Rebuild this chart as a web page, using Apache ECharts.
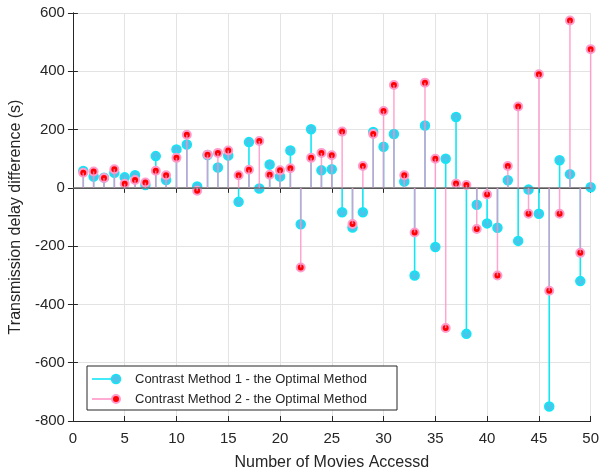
<!DOCTYPE html>
<html>
<head>
<meta charset="utf-8">
<script src="https://cdn.jsdelivr.net/npm/echarts@6/dist/echarts.min.js"></script>
<style>
  html, body { margin: 0; padding: 0; background: #fff; }
  #main { width: 602px; height: 476px; }
</style>
</head>
<body>
<div id="main"></div>
<script>
// 电影编号 1..50
var movies = [1, 2, 3, 4, 5, 6, 7, 8, 9, 10, 11, 12, 13, 14, 15, 16, 17, 18, 19, 20,
  21, 22, 23, 24, 25, 26, 27, 28, 29, 30, 31, 32, 33, 34, 35, 36, 37, 38, 39, 40,
  41, 42, 43, 44, 45, 46, 47, 48, 49, 50];
// 对比方法1 - 最优方法
var method1 = [58, 39, 35, 52, 36, 43, 10, 109, 27, 132, 149, 5, 113, 70, 111, -48, 157, -2, 80, 39,
  128, -125, 201, 60, 64, -84, -136, -84, 192, 141, 185, 22, -301, 214, -203, 100, 243, -501, -58, -122,
  -137, 26, -182, -6, -89, -750, 95, 47, -320, 2];
// 对比方法2 - 最优方法
var method2 = [52, 56, 34, 64, 14, 27, 18, 59, 43, 103, 182, -10, 114, 120, 128, 43, 62, 161, 45, 60,
  67, -273, 103, 120, 112, 193, -124, 75, 185, 264, 353, 43, -153, 361, 100, -481, 15, 10, -141, -23,
  -301, 75, 279, -89, 390, -353, -89, 574, -223, 476];
var xTicks = [0, 5, 10, 15, 20, 25, 30, 35, 40, 45, 50];
var yTicks = [-800, -600, -400, -200, 0, 200, 400, 600];
var names = ['Contrast Method 1 - the Optimal Method', 'Contrast Method 2 - the Optimal Method'];

var pairs1 = movies.map(function (m, i) { return [m, method1[i]]; });
var pairs2 = movies.map(function (m, i) { return [m, method2[i]]; });

function stem(color, opacity, width) {
  return function (params, api) {
    var x = api.value(0), y = api.value(1);
    var p0 = api.coord([x, 0]);
    var p1 = api.coord([x, y]);
    return {
      type: 'line',
      shape: { x1: p0[0], y1: p0[1], x2: p1[0], y2: p1[1] },
      style: { stroke: color, lineWidth: width, opacity: opacity }
    };
  };
}

var boxColor = '#262626';
var font = 'Liberation Sans, Arial, Helvetica, sans-serif';

var myChart = echarts.init(document.getElementById('main'));
myChart.setOption({
  animation: false,
  backgroundColor: '#fff',
  grid: { left: 71, right: 10, top: 13, bottom: 52, containLabel: false },
  xAxis: [{
    type: 'value', min: xTicks[0], max: xTicks[xTicks.length - 1], interval: 5,
    name: 'Number of Movies Accessd', nameLocation: 'middle', nameGap: 34,
    nameTextStyle: { fontSize: 16, color: '#262626', fontFamily: font },
    axisLine: { show: true, onZero: false, lineStyle: { color: boxColor, width: 1 } },
    axisTick: { show: true, inside: true, length: 5, lineStyle: { color: boxColor } },
    axisLabel: { fontSize: 15, color: '#262626', margin: 10, fontFamily: font },
    splitLine: { show: true, lineStyle: { color: '#e3e3e3', width: 1 } }
  }, {
    type: 'value', position: 'top', min: xTicks[0], max: xTicks[xTicks.length - 1], interval: 5,
    axisLine: { show: true, lineStyle: { color: boxColor, width: 1 } },
    axisTick: { show: true, inside: true, length: 5, lineStyle: { color: boxColor } },
    axisLabel: { show: false }, splitLine: { show: false }
  }],
  yAxis: [{
    type: 'value', min: yTicks[0], max: yTicks[yTicks.length - 1], interval: 200,
    name: 'Transmission delay difference (s)', nameLocation: 'middle', nameGap: 47,
    nameTextStyle: { fontSize: 16, color: '#262626', fontFamily: font },
    axisLine: { show: true, onZero: false, lineStyle: { color: boxColor, width: 1 } },
    axisTick: { show: true, inside: true, length: 5, lineStyle: { color: boxColor } },
    axisLabel: { fontSize: 15, color: '#262626', margin: 8, fontFamily: font },
    splitLine: { show: true, lineStyle: { color: '#e3e3e3', width: 1 } }
  }, {
    type: 'value', position: 'right', min: yTicks[0], max: yTicks[yTicks.length - 1], interval: 200,
    axisLine: { show: true, lineStyle: { color: boxColor, width: 1 } },
    axisTick: { show: true, inside: true, length: 5, lineStyle: { color: boxColor } },
    axisLabel: { show: false }, splitLine: { show: false }
  }],
  series: [
    {
      name: names[0], type: 'scatter', data: pairs1, symbol: 'circle', symbolSize: 9, z: 2,
      itemStyle: { color: '#4ec3ea', borderColor: '#12e6f5', borderWidth: 1.5, opacity: 1 },
      markLine: {
        silent: true, symbol: 'none', label: { show: false },
        lineStyle: { color: '#6b6b6b', width: 1.5, type: 'solid' },
        data: [{ yAxis: 0 }]
      }
    },
    {
      name: names[0], type: 'custom', data: pairs1, z: 3,
      renderItem: stem('#12e6f5', 1, 1.6)
    },
    {
      name: names[1], type: 'scatter', data: pairs2, symbol: 'circle', symbolSize: 8, z: 4,
      itemStyle: { color: '#ff0000', borderColor: '#ff9ccc', borderWidth: 2, opacity: 1 }
    },
    {
      name: names[1], type: 'custom', data: pairs2, z: 5,
      renderItem: stem('#ff8fc4', 0.8, 1.5)
    }
  ],
  graphic: [
    { type: 'rect', shape: { x: 87, y: 366, width: 310, height: 44 },
      style: { fill: '#fff', stroke: '#262626', lineWidth: 1 }, z: 100 },
    { type: 'line', shape: { x1: 92, y1: 379, x2: 116, y2: 379 },
      style: { stroke: '#12e6f5', lineWidth: 1.6 }, z: 101 },
    { type: 'circle', shape: { cx: 116, cy: 379, r: 4.5 },
      style: { fill: '#4ec3ea', stroke: '#12e6f5', lineWidth: 1.5 }, z: 102 },
    { type: 'text', x: 135, y: 379, z: 102,
      style: { text: names[0], fontSize: 13, fill: '#262626', fontFamily: font, verticalAlign: 'middle' } },
    { type: 'line', shape: { x1: 92, y1: 399, x2: 116, y2: 399 },
      style: { stroke: '#ff8fc4', lineWidth: 1.5 }, z: 101 },
    { type: 'circle', shape: { cx: 116, cy: 399, r: 4 },
      style: { fill: '#ff0000', stroke: '#ff9ccc', lineWidth: 2 }, z: 102 },
    { type: 'text', x: 135, y: 399, z: 102,
      style: { text: names[1], fontSize: 13, fill: '#262626', fontFamily: font, verticalAlign: 'middle' } }
  ]
});
</script>
</body>
</html>
